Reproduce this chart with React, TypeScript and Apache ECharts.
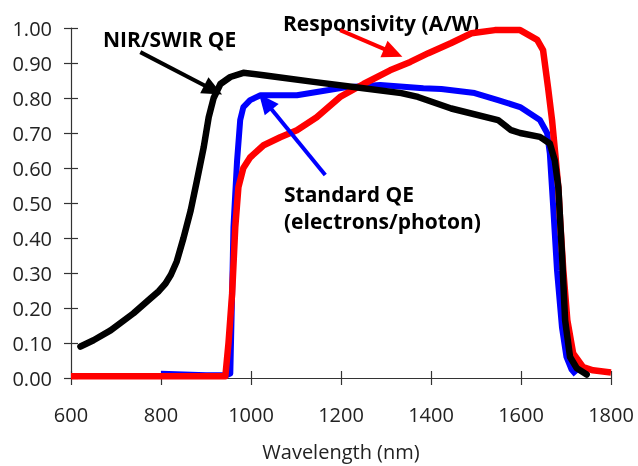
import React, { useEffect, useRef } from "react";
import * as echarts from "echarts";

const xTicks = [600, 800, 1000, 1200, 1400, 1600, 1800];

const nirX = [621, 650, 688, 739, 777, 795, 810, 822, 835, 850, 866, 880, 895, 906, 917, 932, 954, 983, 1028, 1139, 1250, 1334, 1371, 1445, 1549, 1578, 1598, 1642, 1664, 1675, 1683, 1691, 1698, 1709, 1724, 1746];
const nirY = [0.09, 0.108, 0.136, 0.185, 0.228, 0.248, 0.27, 0.295, 0.333, 0.4, 0.479, 0.565, 0.66, 0.745, 0.8, 0.84, 0.86, 0.872, 0.865, 0.846, 0.828, 0.814, 0.803, 0.77, 0.737, 0.708, 0.7, 0.689, 0.67, 0.622, 0.545, 0.356, 0.165, 0.06, 0.028, 0.01];

const stdX = [800, 850, 900, 945, 954, 958, 961, 969, 976, 983, 998, 1021, 1102, 1146, 1213, 1287, 1383, 1423, 1497, 1549, 1598, 1642, 1658, 1664, 1671, 1680, 1691, 1701, 1712, 1722];
const stdY = [0.012, 0.01, 0.008, 0.008, 0.013, 0.24, 0.43, 0.62, 0.737, 0.774, 0.794, 0.808, 0.808, 0.817, 0.831, 0.837, 0.828, 0.826, 0.814, 0.794, 0.774, 0.737, 0.7, 0.642, 0.5, 0.308, 0.145, 0.06, 0.025, 0.01];

const respX = [600, 700, 800, 900, 943, 950, 958, 965, 972, 983, 998, 1028, 1065, 1102, 1146, 1198, 1250, 1309, 1354, 1394, 1445, 1490, 1542, 1598, 1636, 1649, 1660, 1669, 1676, 1683, 1687, 1694, 1703, 1716, 1738, 1760, 1800];
const respY = [0.005, 0.005, 0.005, 0.005, 0.005, 0.1, 0.24, 0.43, 0.545, 0.6, 0.63, 0.665, 0.688, 0.708, 0.745, 0.803, 0.84, 0.879, 0.903, 0.928, 0.957, 0.985, 0.994, 0.994, 0.966, 0.937, 0.831, 0.737, 0.642, 0.545, 0.45, 0.308, 0.165, 0.07, 0.031, 0.022, 0.016];

const seriesNames = ["Standard QE (electrons/photon)", "Responsivity (A/W)", "NIR/SWIR QE"];

const zip = (xs: number[], ys: number[]) => xs.map((x, i) => [x, ys[i]]);

const FONT = "'Open Sans', 'DejaVu Sans', sans-serif";

export default function App() {
  const ref = useRef<HTMLDivElement>(null);
  useEffect(() => {
    if (!ref.current) return;
    const chart = echarts.init(ref.current, undefined, { renderer: "svg" });
    const axisColor = "#333";
    const arrow = (color: string, from: number[], to: number[]) => ({
      silent: true,
      symbol: ["none", "triangle"],
      symbolSize: [18, 20],
      label: { show: false },
      lineStyle: { color, width: 4, type: "solid" },
      data: [[{ coord: from }, { coord: to }]],
    });
    const xBase = {
      type: "value",
      min: xTicks[0],
      max: xTicks[xTicks.length - 1],
      interval: xTicks[1] - xTicks[0],
      splitLine: { show: false },
    };
    chart.setOption({
      animation: false,
      textStyle: { fontFamily: FONT },
      grid: { left: 71, right: 27, top: 28, bottom: 88 },
      xAxis: [
        {
          ...xBase,
          name: "Wavelength (nm)",
          nameLocation: "middle",
          nameGap: 63,
          nameTextStyle: { fontSize: 20, color: "#222", fontFamily: FONT },
          axisLine: { show: true, lineStyle: { color: axisColor, width: 1.2 } },
          axisTick: { show: true, length: 7, lineStyle: { color: axisColor, width: 1.2 } },
          axisLabel: { fontSize: 20, color: "#222", margin: 26, fontFamily: FONT, formatter: (v: number) => String(v) },
        },
        {
          ...xBase,
          position: "bottom",
          axisLine: { show: false },
          axisTick: { show: true, inside: true, length: 7, lineStyle: { color: axisColor, width: 1.2 } },
          axisLabel: { show: false },
        },
      ],
      yAxis: [
        {
          type: "value",
          min: 0,
          max: 1,
          interval: 0.1,
          axisLine: { show: true, lineStyle: { color: axisColor, width: 1.2 } },
          axisTick: { show: true, length: 7, lineStyle: { color: axisColor, width: 1.2 } },
          axisLabel: { fontSize: 20, color: "#222", margin: 19, fontFamily: FONT, formatter: (v: number) => v.toFixed(2) },
          splitLine: { show: false },
        },
        {
          type: "value",
          min: 0,
          max: 1,
          interval: 0.1,
          position: "left",
          axisLine: { show: false },
          axisTick: { show: true, inside: true, length: 7, lineStyle: { color: axisColor, width: 1.2 } },
          axisLabel: { show: false },
          splitLine: { show: false },
        },
      ],
      series: [
        {
          name: seriesNames[0],
          type: "line",
          data: zip(stdX, stdY),
          showSymbol: false,
          lineStyle: { color: "#0000ff", width: 6, join: "round" },
          itemStyle: { color: "#0000ff" },
          markLine: arrow("#0000ff", [1165, 0.58], [1032, 0.789]),
        },
        {
          name: seriesNames[1],
          type: "line",
          data: zip(respX, respY),
          showSymbol: false,
          lineStyle: { color: "#ff0000", width: 6.5, join: "round" },
          itemStyle: { color: "#ff0000" },
          markLine: arrow("#ff0000", [1198, 0.994], [1316, 0.929]),
        },
        {
          name: seriesNames[2],
          type: "line",
          data: zip(nirX, nirY),
          showSymbol: false,
          lineStyle: { color: "#000000", width: 6.5, cap: "round", join: "round" },
          itemStyle: { color: "#000000" },
          markLine: arrow("#000000", [754, 0.931], [916, 0.823]),
        },
      ],
      graphic: [
        { type: "text", left: 103, top: 28, style: { text: "NIR/SWIR QE", fontSize: 21, fontWeight: "bold", fill: "#000", fontFamily: FONT } },
        { type: "text", left: 283, top: 12, style: { text: "Responsivity (A/W)", fontSize: 21, fontWeight: "bold", fill: "#000", fontFamily: FONT } },
        { type: "text", left: 284, top: 183, style: { text: "Standard QE", fontSize: 21, fontWeight: "bold", fill: "#000", fontFamily: FONT } },
        { type: "text", left: 284, top: 210, style: { text: "(electrons/photon)", fontSize: 21, fontWeight: "bold", fill: "#000", fontFamily: FONT } },
      ],
    });
    return () => chart.dispose();
  }, []);
  return <div ref={ref} style={{ position: "fixed", left: 0, top: 0, width: 638, height: 466 }} />;
}
